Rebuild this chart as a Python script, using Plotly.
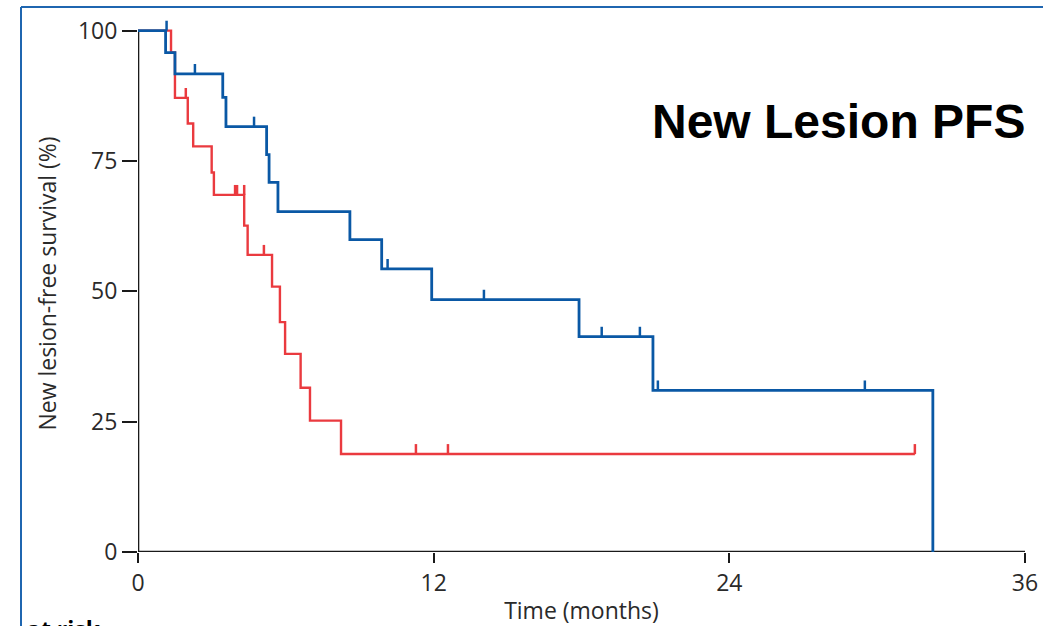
import plotly.graph_objects as go

# ---- data ----
blue_t = [0, 1.12, 1.50, 3.44, 3.57, 5.22, 5.32, 5.68, 8.60, 9.89, 11.92, 17.90, 20.90, 32.26]
blue_s = [100, 95.8, 91.7, 87.2, 81.6, 76.2, 70.9, 65.3, 59.9, 54.3, 48.4, 41.3, 31.0, 0]
blue_cens_t = [1.16, 2.31, 4.71, 10.13, 14.04, 18.82, 20.37, 21.10, 29.50]
blue_cens_s = [100, 91.7, 81.6, 54.3, 48.4, 41.3, 41.3, 31.0, 31.0]

red_t = [0, 1.34, 1.50, 2.02, 2.24, 2.99, 3.08, 4.31, 4.45, 5.44, 5.76, 5.97, 6.60, 6.98, 8.24, 31.53]
red_s = [100, 95.8, 87.1, 82.2, 77.8, 72.8, 68.5, 62.6, 57.0, 50.9, 44.1, 38.0, 31.5, 25.2, 18.8, 18.8]
red_cens_t = [1.94, 3.94, 4.02, 4.31, 5.11, 11.28, 12.58, 31.53]
red_cens_s = [87.1, 68.5, 68.5, 68.5, 57.0, 18.8, 18.8, 18.8]

x_ticks = [0, 12, 24, 36]
y_ticks = [0, 25, 50, 75, 100]

BLUE = "#0a58a5"
RED = "#ea3a3f"
FRAME = "#1f66b0"
TXT = "#2a2a2a"

fig = go.Figure()

def add_curve(t, s, ct, cs, color, width):
    fig.add_trace(go.Scatter(x=t, y=s, mode="lines", line=dict(color=color, width=width, shape="hv"),
                             showlegend=False, hoverinfo="skip"))
    fig.add_trace(go.Scatter(x=ct, y=cs, mode="markers", marker=dict(size=1, color=color),
                             error_y=dict(type="data", symmetric=False, array=[1.9] * len(ct),
                                          arrayminus=[0] * len(ct), width=0, thickness=2.5, color=color),
                             showlegend=False, hoverinfo="skip"))

add_curve(red_t, red_s, red_cens_t, red_cens_s, RED, 2.4)
add_curve(blue_t, blue_s, blue_cens_t, blue_cens_s, BLUE, 2.8)

W, H = 1043, 626
L, R, T, B = 138, 18, 15, 74
pw, ph = W - L - R, H - T - B

def px_x(p):
    return (p - L) / pw

def px_y(p):
    return (H - B - p) / ph

shapes = [
    # axis lines
    dict(type="line", xref="x", yref="y", x0=0, x1=0, y0=0, y1=100, line=dict(color="#1a1a1a", width=2.6), layer="below"),
    dict(type="line", xref="x", yref="y", x0=0, x1=36, y0=0, y1=0, line=dict(color="#1a1a1a", width=2.6), layer="below"),
    # blue frame
    dict(type="line", xref="paper", yref="paper", x0=px_x(21), x1=px_x(21), y0=px_y(7), y1=px_y(660), line=dict(color=FRAME, width=2)),
    dict(type="line", xref="paper", yref="paper", x0=px_x(21), x1=px_x(1060), y0=px_y(7), y1=px_y(7), line=dict(color=FRAME, width=2)),
]

fig.update_layout(
    width=W, height=H,
    margin=dict(l=L, r=R, t=T, b=B, autoexpand=False),
    paper_bgcolor="white", plot_bgcolor="white",
    shapes=shapes,
    xaxis=dict(range=[0, 36], tickvals=x_ticks, ticktext=[str(v) for v in x_ticks],
               showgrid=False, zeroline=False, showline=False, automargin=False,
               ticks="outside", ticklen=10, tickwidth=2.4, tickcolor="#1a1a1a",
               tickfont=dict(family="Open Sans", size=23, color=TXT),
               title=dict(text="Time (months)", font=dict(family="Open Sans", size=23, color=TXT), standoff=6)),
    yaxis=dict(range=[0, 103], tickvals=y_ticks, ticktext=[str(v) for v in y_ticks],
               showgrid=False, zeroline=False, showline=False, automargin=False,
               ticks="outside", ticklen=15, tickwidth=2.4, tickcolor="#1a1a1a",
               tickfont=dict(family="Open Sans", size=23, color=TXT),
               title=dict(text="New lesion-free survival (%)", font=dict(family="Open Sans", size=23, color=TXT), standoff=14)),
    annotations=[
        dict(text="<b>New Lesion PFS</b>", xref="paper", yref="paper", x=px_x(838), y=px_y(122),
             xanchor="center", yanchor="middle", showarrow=False,
             font=dict(family="Liberation Sans", size=48, color="black")),
        dict(text="<b>at risk</b>", xref="paper", yref="paper", x=px_x(25), y=px_y(611),
             xanchor="left", yanchor="top", showarrow=False,
             font=dict(family="Open Sans", size=23, color="black")),
    ],
)

fig.write_html("out.html")
